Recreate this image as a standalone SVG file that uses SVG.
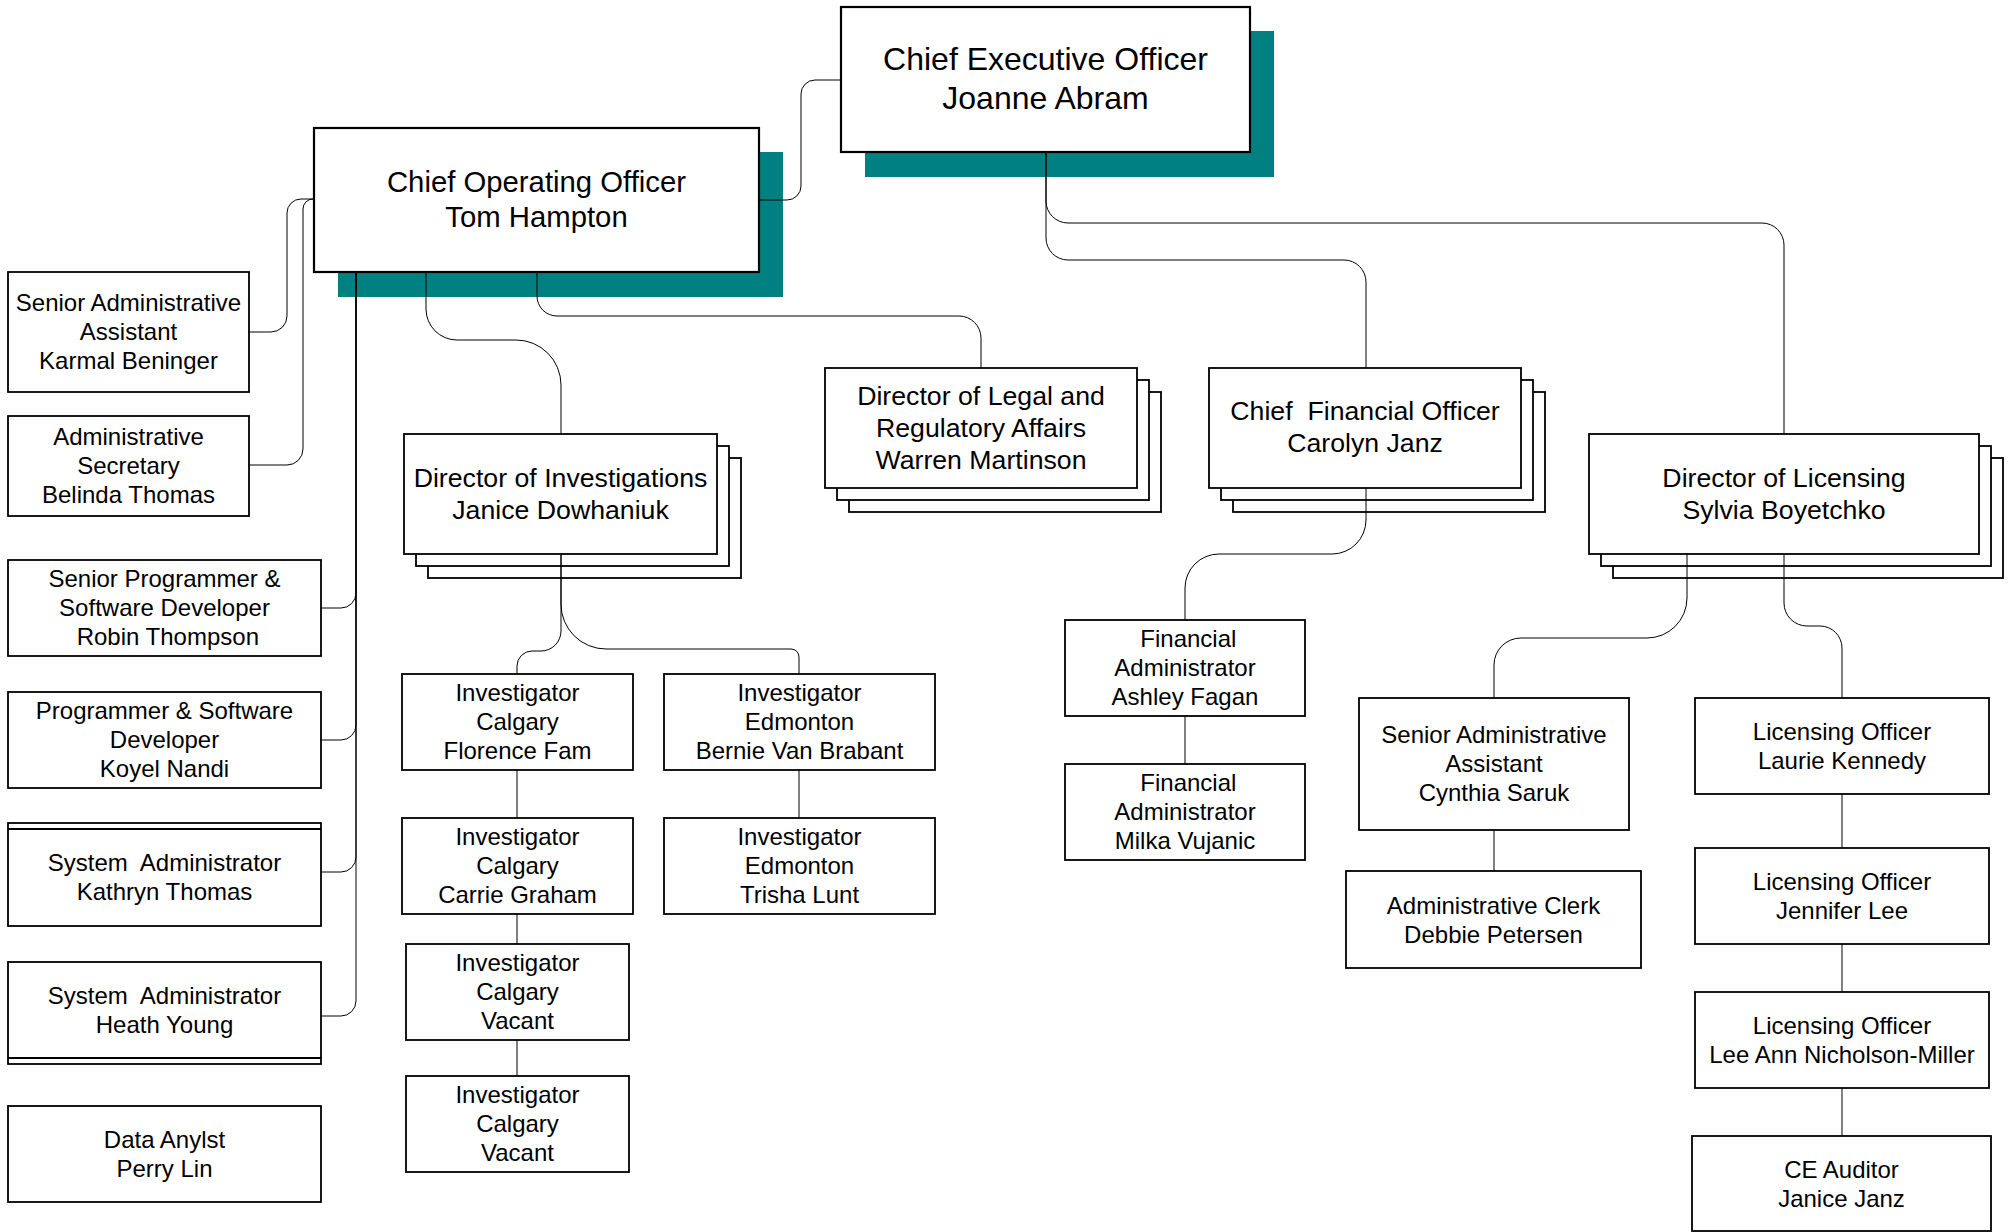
<svg xmlns="http://www.w3.org/2000/svg" width="2012" height="1232" viewBox="0 0 2012 1232">
<style>
  .bx{fill:#fff;stroke:#000;stroke-width:1.8}
  .big{fill:#fff;stroke:#000;stroke-width:2.2}
  .sh{fill:#008080;stroke:none}
  .ln{fill:none;stroke:#000;stroke-width:1.8}
  .c{fill:none;stroke:#000;stroke-width:1}
  text{font-family:"Liberation Sans",Arial,sans-serif;fill:#000;text-anchor:middle;dominant-baseline:central;white-space:pre}
  .t24{font-size:24px}
  .t27{font-size:26.7px}
  .t29{font-size:29.3px}
  .t32{font-size:32px}
</style>
<rect width="2012" height="1232" fill="#fff"/>
<g id="nodes">
  <g id="ceo">
    <rect class="sh" x="865" y="31" width="409" height="146"/>
    <rect class="big" x="841" y="7" width="409" height="145"/>
    <text class="t32"><tspan x="1045.5" y="59">Chief Executive Officer</tspan><tspan x="1045.5" y="97.5">Joanne Abram</tspan></text>
  </g>
  <g id="coo">
    <rect class="sh" x="338" y="152" width="445" height="145"/>
    <rect class="big" x="314" y="128" width="445" height="144"/>
    <text class="t29"><tspan x="536.5" y="181">Chief Operating Officer</tspan><tspan x="536.5" y="215.6">Tom Hampton</tspan></text>
  </g>
  <g id="karmal">
    <rect class="bx" x="8" y="272" width="241" height="120"/>
    <text class="t24"><tspan x="128.5" y="302">Senior Administrative</tspan><tspan x="128.5" y="331">Assistant</tspan><tspan x="128.5" y="360">Karmal Beninger</tspan></text>
  </g>
  <g id="belinda">
    <rect class="bx" x="8" y="416" width="241" height="100"/>
    <text class="t24"><tspan x="128.5" y="436">Administrative</tspan><tspan x="128.5" y="465">Secretary</tspan><tspan x="128.5" y="494">Belinda Thomas</tspan></text>
  </g>
  <g id="robin">
    <rect class="bx" x="8" y="560" width="313" height="96"/>
    <text class="t24" xml:space="preserve"><tspan x="164.5" y="578">Senior Programmer &amp;</tspan><tspan x="164.5" y="607">Software Developer</tspan><tspan x="164.5" y="636"> Robin Thompson</tspan></text>
  </g>
  <g id="koyel">
    <rect class="bx" x="8" y="692" width="313" height="96"/>
    <text class="t24"><tspan x="164.5" y="710">Programmer &amp; Software</tspan><tspan x="164.5" y="739">Developer</tspan><tspan x="164.5" y="768">Koyel Nandi</tspan></text>
  </g>
  <g id="kathryn">
    <rect class="bx" x="8" y="823" width="313" height="103"/>
    <line class="ln" x1="8" y1="829" x2="321" y2="829"/>
    <text class="t24" xml:space="preserve"><tspan x="164.5" y="862">System  Administrator</tspan><tspan x="164.5" y="891">Kathryn Thomas</tspan></text>
  </g>
  <g id="heath">
    <rect class="bx" x="8" y="962" width="313" height="102"/>
    <line class="ln" x1="8" y1="1058" x2="321" y2="1058"/>
    <text class="t24" xml:space="preserve"><tspan x="164.5" y="994.5">System  Administrator</tspan><tspan x="164.5" y="1023.5">Heath Young</tspan></text>
  </g>
  <g id="perry">
    <rect class="bx" x="8" y="1106" width="313" height="96"/>
    <text class="t24"><tspan x="164.5" y="1138.5">Data Anylst</tspan><tspan x="164.5" y="1167.5">Perry Lin</tspan></text>
  </g>
  <g id="dir-investigations">
    <rect class="bx" x="428" y="458" width="313" height="120"/>
    <rect class="bx" x="416" y="446" width="313" height="120"/>
    <rect class="bx" x="404" y="434" width="313" height="120"/>
    <text class="t27"><tspan x="560.5" y="478">Director of Investigations</tspan><tspan x="560.5" y="510">Janice Dowhaniuk</tspan></text>
  </g>
  <g id="dir-legal">
    <rect class="bx" x="849" y="392" width="312" height="120"/>
    <rect class="bx" x="837" y="380" width="312" height="120"/>
    <rect class="bx" x="825" y="368" width="312" height="120"/>
    <text class="t27"><tspan x="981" y="396">Director of Legal and</tspan><tspan x="981" y="428">Regulatory Affairs</tspan><tspan x="981" y="460">Warren Martinson</tspan></text>
  </g>
  <g id="cfo">
    <rect class="bx" x="1233" y="392" width="312" height="120"/>
    <rect class="bx" x="1221" y="380" width="312" height="120"/>
    <rect class="bx" x="1209" y="368" width="312" height="120"/>
    <text class="t27" xml:space="preserve"><tspan x="1365" y="411">Chief  Financial Officer</tspan><tspan x="1365" y="443">Carolyn Janz</tspan></text>
  </g>
  <g id="dir-licensing">
    <rect class="bx" x="1613" y="458" width="390" height="120"/>
    <rect class="bx" x="1601" y="446" width="390" height="120"/>
    <rect class="bx" x="1589" y="434" width="390" height="120"/>
    <text class="t27"><tspan x="1784" y="478">Director of Licensing</tspan><tspan x="1784" y="510">Sylvia Boyetchko</tspan></text>
  </g>
  <g id="inv-florence">
    <rect class="bx" x="402" y="674" width="231" height="96"/>
    <text class="t24"><tspan x="517.5" y="692">Investigator</tspan><tspan x="517.5" y="721">Calgary</tspan><tspan x="517.5" y="750">Florence Fam</tspan></text>
  </g>
  <g id="inv-carrie">
    <rect class="bx" x="402" y="818" width="231" height="96"/>
    <text class="t24"><tspan x="517.5" y="836">Investigator</tspan><tspan x="517.5" y="865">Calgary</tspan><tspan x="517.5" y="894">Carrie Graham</tspan></text>
  </g>
  <g id="inv-vacant1">
    <rect class="bx" x="406" y="944" width="223" height="96"/>
    <text class="t24"><tspan x="517.5" y="962">Investigator</tspan><tspan x="517.5" y="991">Calgary</tspan><tspan x="517.5" y="1020">Vacant</tspan></text>
  </g>
  <g id="inv-vacant2">
    <rect class="bx" x="406" y="1076" width="223" height="96"/>
    <text class="t24"><tspan x="517.5" y="1094">Investigator</tspan><tspan x="517.5" y="1123">Calgary</tspan><tspan x="517.5" y="1152">Vacant</tspan></text>
  </g>
  <g id="inv-bernie">
    <rect class="bx" x="664" y="674" width="271" height="96"/>
    <text class="t24"><tspan x="799.5" y="692">Investigator</tspan><tspan x="799.5" y="721">Edmonton</tspan><tspan x="799.5" y="750">Bernie Van Brabant</tspan></text>
  </g>
  <g id="inv-trisha">
    <rect class="bx" x="664" y="818" width="271" height="96"/>
    <text class="t24"><tspan x="799.5" y="836">Investigator</tspan><tspan x="799.5" y="865">Edmonton</tspan><tspan x="799.5" y="894">Trisha Lunt</tspan></text>
  </g>
  <g id="fin-ashley">
    <rect class="bx" x="1065" y="620" width="240" height="96"/>
    <text class="t24" xml:space="preserve"><tspan x="1185" y="638"> Financial</tspan><tspan x="1185" y="667">Administrator</tspan><tspan x="1185" y="696">Ashley Fagan</tspan></text>
  </g>
  <g id="fin-milka">
    <rect class="bx" x="1065" y="764" width="240" height="96"/>
    <text class="t24" xml:space="preserve"><tspan x="1185" y="782"> Financial</tspan><tspan x="1185" y="811">Administrator</tspan><tspan x="1185" y="840">Milka Vujanic</tspan></text>
  </g>
  <g id="cynthia">
    <rect class="bx" x="1359" y="698" width="270" height="132"/>
    <text class="t24"><tspan x="1494" y="734">Senior Administrative</tspan><tspan x="1494" y="763">Assistant</tspan><tspan x="1494" y="792">Cynthia Saruk</tspan></text>
  </g>
  <g id="debbie">
    <rect class="bx" x="1346" y="871" width="295" height="97"/>
    <text class="t24"><tspan x="1493.5" y="905">Administrative Clerk</tspan><tspan x="1493.5" y="934">Debbie Petersen</tspan></text>
  </g>
  <g id="laurie">
    <rect class="bx" x="1695" y="698" width="294" height="96"/>
    <text class="t24"><tspan x="1842" y="731">Licensing Officer</tspan><tspan x="1842" y="760">Laurie Kennedy</tspan></text>
  </g>
  <g id="jennifer">
    <rect class="bx" x="1695" y="848" width="294" height="96"/>
    <text class="t24"><tspan x="1842" y="881">Licensing Officer</tspan><tspan x="1842" y="910">Jennifer Lee</tspan></text>
  </g>
  <g id="leeann">
    <rect class="bx" x="1695" y="992" width="294" height="96"/>
    <text class="t24"><tspan x="1842" y="1025">Licensing Officer</tspan><tspan x="1842" y="1054">Lee Ann Nicholson-Miller</tspan></text>
  </g>
  <g id="ce-auditor">
    <rect class="bx" x="1692" y="1136" width="299" height="95"/>
    <text class="t24"><tspan x="1841.5" y="1169">CE Auditor</tspan><tspan x="1841.5" y="1198">Janice Janz</tspan></text>
  </g>
</g>
<g id="connectors">
  <path class="c" d="M841,80 H815 A14,14 0 0 0 801,94 V186 A14,14 0 0 1 787,200 H759"/>
  <path class="c" d="M1046,152 V238 A22,22 0 0 0 1068,260 H1344 A22,22 0 0 1 1366,282 V368"/>
  <path class="c" d="M1046,152 V201 A22,22 0 0 0 1068,223 H1762 A22,22 0 0 1 1784,245 V434"/>
  <path class="c" d="M537,272 V296 A20,20 0 0 0 557,316 H959 A22,22 0 0 1 981,338 V368"/>
  <path class="c" d="M426,272 V309 A31,31 0 0 0 457,340 H516 A45,45 0 0 1 561,385 V434"/>
  <path class="c" d="M314,199 H301 A14,14 0 0 0 287,213 V316 A16,16 0 0 1 271,332 H249"/>
  <path class="c" d="M314,199 H313 A10,10 0 0 0 303,209 V449 A16,16 0 0 1 287,465 H249"/>
  <path class="c" d="M356,272 V593 A15,15 0 0 1 341,608 H321"/>
  <path class="c" d="M356,272 V725 A15,15 0 0 1 341,740 H321"/>
  <path class="c" d="M356,272 V857 A15,15 0 0 1 341,872 H321"/>
  <path class="c" d="M356,272 V1001 A15,15 0 0 1 341,1016 H321"/>
  <path class="c" d="M561,554 V631 A20,20 0 0 1 541,651 H532 A15,15 0 0 0 517,666 V674"/>
  <path class="c" d="M561,554 V604 A45,45 0 0 0 606,649 H791 A8,8 0 0 1 799,657 V674"/>
  <path class="c" d="M517,770 V818 M517,914 V944 M517,1040 V1076"/>
  <path class="c" d="M799,770 V818"/>
  <path class="c" d="M1366,488 V520 A34,34 0 0 1 1332,554 H1219 A34,34 0 0 0 1185,588 V620"/>
  <path class="c" d="M1185,716 V764"/>
  <path class="c" d="M1687,554 V598 A40,40 0 0 1 1647,638 H1521 A27,27 0 0 0 1494,665 V698"/>
  <path class="c" d="M1784,554 V603 A23,23 0 0 0 1807,626 H1820 A22,22 0 0 1 1842,648 V698"/>
  <path class="c" d="M1494,830 V871"/>
  <path class="c" d="M1842,794 V848 M1842,944 V992 M1842,1088 V1136"/>
</g>
</svg>
